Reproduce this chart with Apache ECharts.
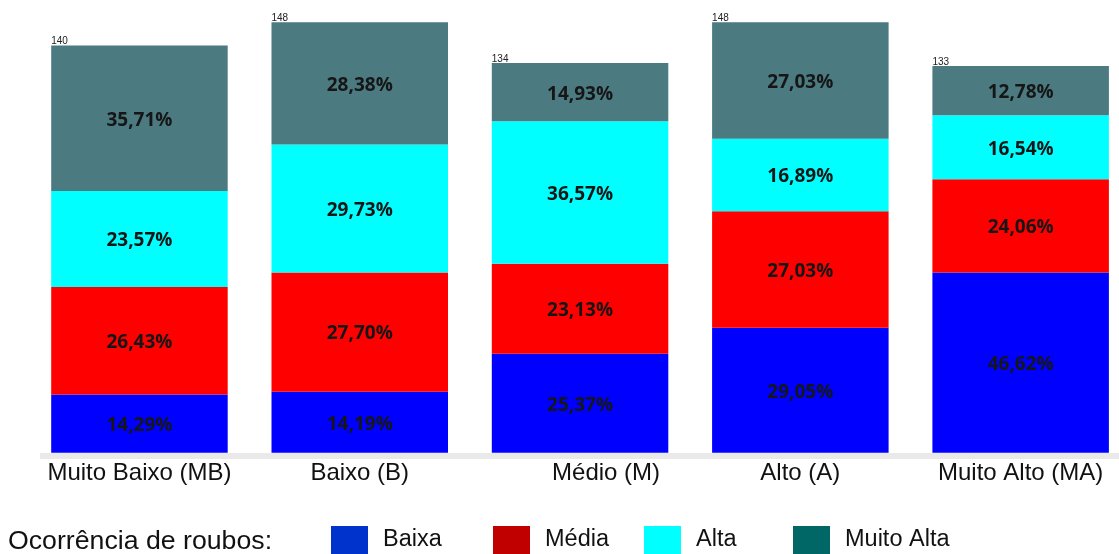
<!DOCTYPE html>
<html>
<head>
<meta charset="utf-8">
<script src="https://cdn.jsdelivr.net/npm/echarts@6/dist/echarts.min.js"></script>
<style>
  html, body { margin: 0; padding: 0; background: #ffffff; overflow: hidden; }
  /* the last bar's slot runs a little past the right edge of the window */
  #chart { width: 1135px; height: 554px; }
</style>
</head>
<body>
<div id="chart"></div>
<script>
// Classes of the district indicator (x axis)
const categories = ['Muito Baixo (MB)', 'Baixo (B)', 'Médio (M)', 'Alto (A)', 'Muito Alto (MA)'];

// Number of cases in each robbery-occurrence class, per category
const baixa     = [20, 21, 34, 43, 62];
const media     = [37, 41, 31, 40, 32];
const alta      = [33, 44, 49, 25, 22];
const muitoAlta = [50, 42, 20, 40, 17];

// Legend entries
const legendNames = ['Baixa', 'Média', 'Alta', 'Muito Alta'];

const totals = categories.map((_, i) => baixa[i] + media[i] + alta[i] + muitoAlta[i]);

function pct(v, i) {
  return (v / totals[i] * 100).toFixed(2).replace('.', ',') + '%';
}

const barColors    = ['#0000ff', '#ff0000', '#00ffff', '#4b7a80'];
const legendColors = ['#0033cc', '#c00000', '#00ffff', '#006666'];
const seriesData   = [baixa, media, alta, muitoAlta];

const segLabel = {
  show: true,
  position: 'inside',
  offset: [0, 2],
  color: '#161616',
  fontFamily: 'Open Sans',
  fontWeight: 'bold',
  fontSize: 19,
  formatter: p => pct(p.value, p.dataIndex)
};

const series = legendNames.map((name, k) => ({
  name: name,
  type: 'bar',
  stack: 'total',
  barWidth: 176.5,
  data: seriesData[k],
  itemStyle: { color: barColors[k] },
  label: segLabel,
  emphasis: { disabled: true }
}));

// Zero-height cap on each stack that carries the total above the bar
series.push({
  name: 'Total',
  type: 'bar',
  stack: 'total',
  barWidth: 176.5,
  silent: true,
  data: categories.map(() => 0),
  itemStyle: { color: 'transparent' },
  label: {
    show: true,
    position: [0, 1],
    align: 'left',
    verticalAlign: 'bottom',
    color: '#222',
    fontFamily: 'Liberation Sans',
    fontSize: 10,
    lineHeight: 10,
    formatter: p => String(totals[p.dataIndex])
  }
});

const legendLefts = [331, 493, 644, 793];
const legends = legendNames.map((name, k) => ({
  left: legendLefts[k],
  top: 526,
  padding: 0,
  orient: 'horizontal',
  selectedMode: false,
  itemWidth: 37,
  itemHeight: 28,
  icon: 'rect',
  textStyle: {
    fontFamily: 'Liberation Sans',
    fontSize: 23.5,
    color: '#111',
    padding: [0, 0, 0, 10]
  },
  data: [{ name: name, itemStyle: { color: legendColors[k] } }]
}));

const option = {
  animation: false,
  backgroundColor: '#ffffff',
  title: {
    text: 'Ocorrência de roubos:',
    left: 3,
    top: 523,
    textStyle: {
      fontFamily: 'Liberation Sans',
      fontWeight: 'normal',
      fontSize: 26.7,
      color: '#111'
    }
  },
  legend: legends,
  grid: { left: 29.3, top: 16.5, width: 1101.5, height: 436.2 },
  xAxis: {
    type: 'category',
    data: categories.map(c => c === 'Médio (M)'
      ? { value: c, textStyle: { padding: [0, 0, 0, 52] } }
      : c),
    axisLine: { show: false },
    axisTick: { show: false },
    axisLabel: {
      interval: 0,
      margin: 9,
      fontFamily: 'Liberation Sans',
      fontSize: 24,
      color: '#111'
    }
  },
  yAxis: { type: 'value', min: 0, max: 150, show: false },
  graphic: [{
    type: 'rect',
    z: 0,
    shape: { x: 40, y: 453, width: 1095, height: 6 },
    style: { fill: '#e9e9e9' }
  }],
  series: series
};

const chart = echarts.init(document.getElementById('chart'), null, { renderer: 'canvas' });
chart.setOption(option);
</script>
</body>
</html>
